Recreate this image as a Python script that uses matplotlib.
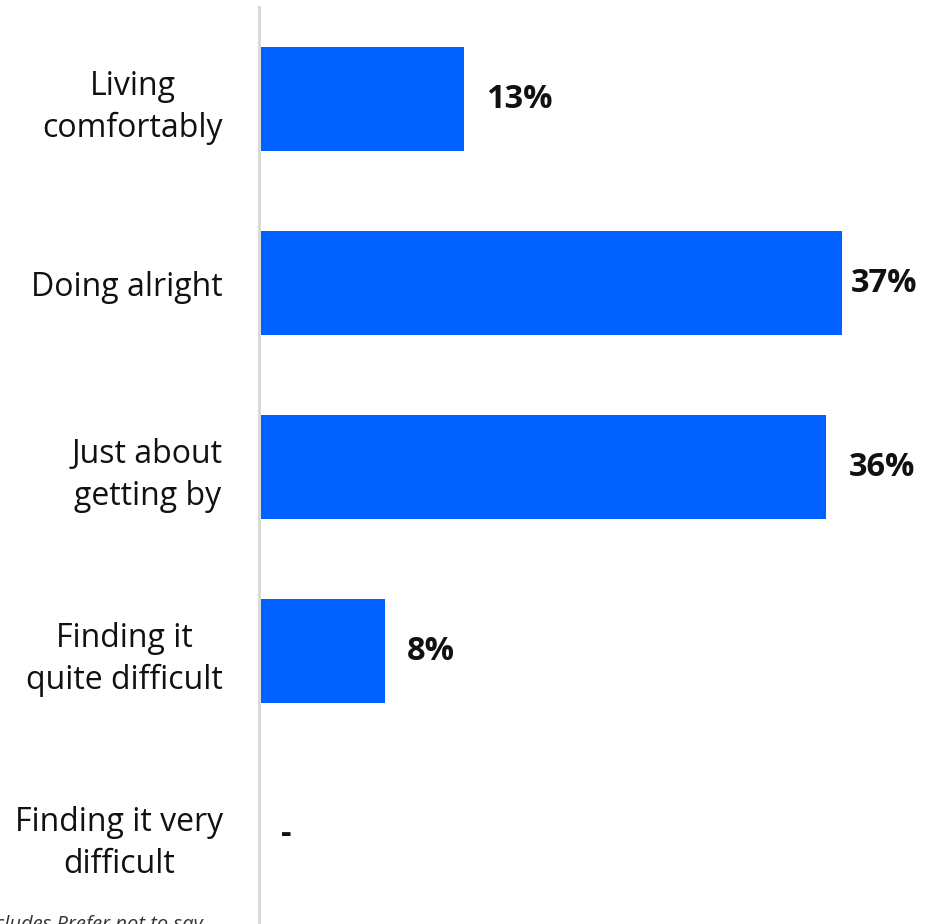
import matplotlib
matplotlib.use("Agg")
import matplotlib.pyplot as plt

categories = [
    "Living\ncomfortably",
    "Doing alright",
    "Just about\ngetting by",
    "Finding it\nquite difficult",
    "Finding it very\ndifficult",
]
values = [13, 37, 36, 8, 0]
value_labels = ["13%", "37%", "36%", "8%", "-"]
footnote = "Base: All respondents. Excludes Prefer not to say"

W, H = 941, 924
plt.rcParams["font.family"] = ["Open Sans", "DejaVu Sans"]
fig = plt.figure(figsize=(W / 100, H / 100), dpi=100)

left_px, top_px, bottom_px = 259, 7, 927
ax = fig.add_axes([left_px / W, 1 - bottom_px / H, (W - left_px) / W, (bottom_px - top_px) / H])

bar_color = "#0061FF"
y = list(range(len(categories)))
ax.barh(y, values, height=0.57, color=bar_color, zorder=2)

xmax = (W - left_px) / 15.76
ax.set_xlim(0, xmax)
ax.set_ylim(len(categories) - 0.5, -0.5)

ax.set_yticks(y)
ax.set_yticklabels(categories, fontsize=23, color="#111111", linespacing=1.35)
ax.tick_params(axis="y", length=0, pad=26)
ax.set_xticks([])
for lbl in ax.get_yticklabels():
    lbl.set_horizontalalignment("right")
    lbl.set_multialignment("center")

for s in ["top", "right", "bottom"]:
    ax.spines[s].set_visible(False)
ax.spines["left"].set_color("#d9d9d9")
ax.spines["left"].set_linewidth(2.2)
ax.spines["left"].set_zorder(3)

vmax = max(values)
for yi, v, lab in zip(y, values, value_labels):
    pad = 6 if v == vmax else 16
    ax.annotate(lab, xy=(v, yi), xytext=(pad, 0), textcoords="offset points",
                ha="left", va="center", fontsize=23.5, fontweight="bold", color="#111111")

fig.text(203 / W, 1 - 915 / H, footnote, ha="right", va="top", fontsize=14.5,
         style="italic", color="#333333")

fig.savefig("out.png", dpi=100)
